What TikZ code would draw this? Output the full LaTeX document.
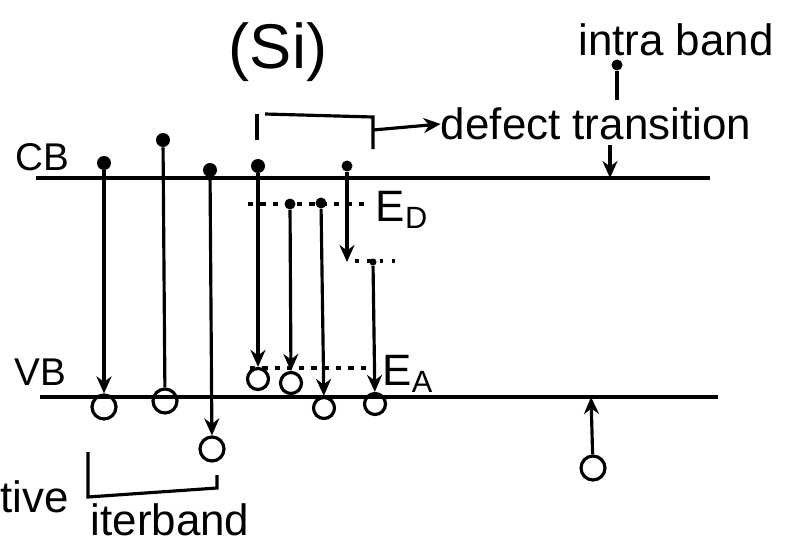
\documentclass[tikz,border=0pt]{standalone}
\usepackage{fontspec}
\setmainfont{Liberation Sans}
\usepackage{tikz}
\usetikzlibrary{arrows.meta,positioning}

\begin{document}
\begin{tikzpicture}[
    x=0.02cm, y=-0.02cm,
    elec/.style={circle, fill, inner sep=0pt, minimum size=0.28cm},
    smallelec/.style={circle, fill, inner sep=0pt, minimum size=0.22cm},
    hole/.style={circle, draw, line width=1.8pt, inner sep=0pt, minimum size=0.48cm},
    band/.style={line width=2.2pt},
    level/.style={line width=1.8pt, dash pattern=on 3pt off 4pt},
    trans/.style={line width=1.8pt},
    arr/.style={-{Stealth[length=3.4mm, width=3mm]}, line width=1.8pt},
    lbl/.style={font=\fontsize{25}{28}\selectfont, inner sep=0pt},
    bandlbl/.style={font=\fontsize{22}{25}\selectfont, inner sep=0pt}
]
\useasboundingbox (0,0) rectangle (794,551);

% band edges
\coordinate (cbL) at (36,178);
\coordinate (cbR) at (710,178);
\coordinate (vbL) at (40,397);
\coordinate (vbR) at (718,397);
\draw[band] (cbL) -- (cbR);
\draw[band] (vbL) -- (vbR);
\node[bandlbl] (cb) at (42,157) {CB};
\node[bandlbl] (vb) at (40,372) {VB};

% defect levels
\coordinate (edL) at (248,204);
\coordinate (edR) at (368,204);
\coordinate (eaL) at (250,368);
\coordinate (eaR) at (373,368);
\draw[level] (edL) -- (edR);
\draw[level] (eaL) -- (eaR);
\node[lbl] (ED) at (402,210) {E$_{\mathrm{D}}$};
\node[lbl] (EA) at (408,374) {E$_{\mathrm{A}}$};

\node[font=\fontsize{36}{40}\selectfont, inner sep=0pt] (si) at (278,52) {(Si)};

% interband transitions
\node[elec] (e1) at (104,163) {};
\node[hole] (h1) at (104,407) {};
\draw[arr] (e1) -- (h1);
\node[elec] (e2) at (163,140) {};
\node[hole] (h2) at (165,401) {};
\draw[trans] (e2) -- (h2);
\node[elec] (e3) at (210,170) {};
\node[hole] (h3) at (212,449) {};
\draw[arr] (e3) -- (h3);

% defect transitions
\node[elec] (e4) at (258,166) {};
\node[hole, minimum size=0.42cm] (h4) at (258,379) {};
\draw[arr] (e4) -- (h4);
\node[smallelec] (d1) at (290,204) {};
\node[hole, minimum size=0.42cm] (h5) at (291,383) {};
\draw[arr] (d1) -- (h5);
\node[smallelec] (d2) at (321,203) {};
\node[hole, minimum size=0.42cm] (h6) at (324,408) {};
\draw[arr] (d2) -- (h6);
\node[smallelec] (e7) at (347,166) {};
\coordinate (deep) at (347,262);
\draw[arr] (e7) -- (deep);
\draw[level, dash pattern=on 2pt off 5pt] (355,261) -- (398,261);
\node[smallelec, minimum size=0.14cm] (d3) at (373,262) {};
\node[hole, minimum size=0.42cm] (h7) at (375,404) {};
\draw[arr] (d3) -- (h7);

% intra band
\node[hole] (h8) at (593,468) {};
\coordinate (vbHit) at (591,397);
\draw[arr] (h8) -- (vbHit);

% labels and brackets
\node[lbl] (defect) at (596,124) {defect transition};
\coordinate (trTop) at (610,145);
\coordinate (trHit) at (610,178);
\draw[arr] (trTop) -- (trHit);

\node[lbl] (intra) at (676,40) {intra band};
\node[smallelec] (pin) at (617,65) {};
\coordinate (pinEnd) at (617,100);
\draw[trans, line width=2.2pt] (pin) -- (pinEnd);

\draw[trans] (257,114) -- (257,140);
\draw[trans] (265,114) -- (373,117) -- (373,149);
\coordinate (brR) at (373,130);
\draw[arr] (brR) -- (defect.west);

\draw[trans] (88,452) -- (88,497) -- (217,488) -- (217,475);
\node[lbl] (inter) at (170,520) {iterband};
\node[lbl, anchor=west] (tive) at (0,497) {tive};
\end{tikzpicture}
\end{document}
